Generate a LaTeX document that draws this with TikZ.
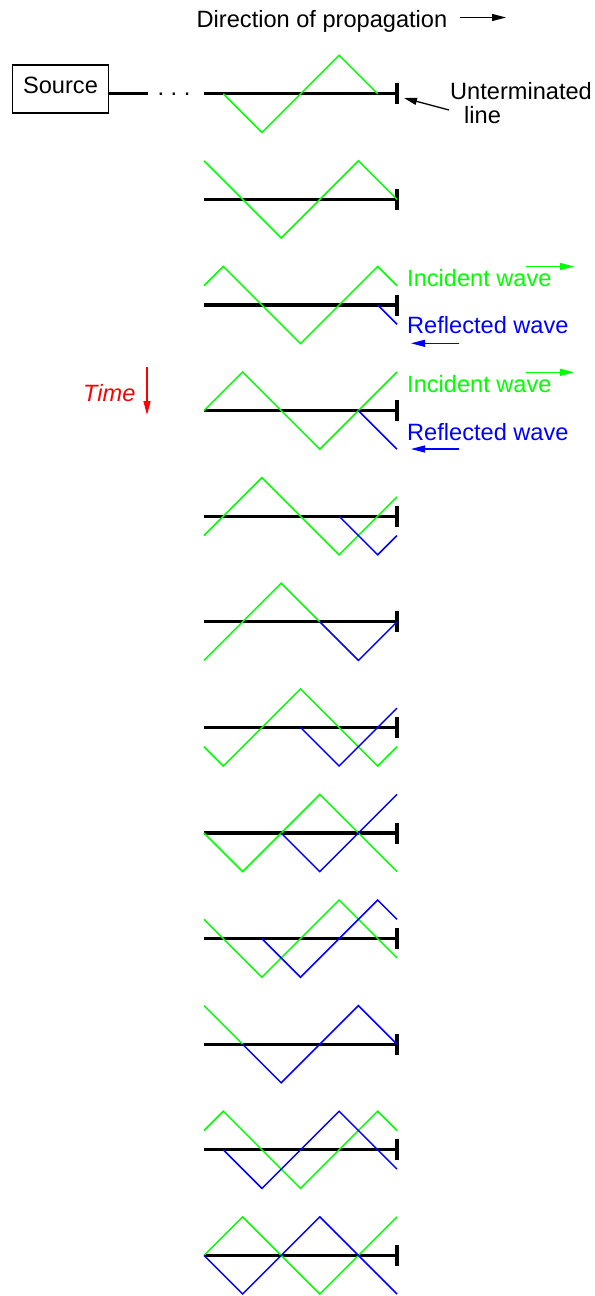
\documentclass[tikz,border=0pt]{standalone}
\usepackage{fontspec}
\setmainfont{Liberation Sans}
\usetikzlibrary{arrows.meta}
\definecolor{incg}{RGB}{0,255,0}
\definecolor{refb}{RGB}{0,0,255}
\definecolor{timer}{RGB}{255,0,0}
\begin{document}
\begin{tikzpicture}[x=1bp,y=1bp,
  font=\fontsize{23.6bp}{28bp}\selectfont,
  tline/.style={line width=3.2bp},
  incw/.style={draw=incg, line width=1.5bp},
  refw/.style={draw=refb, line width=1.5bp},
  lbl/.style={anchor=base west, inner sep=0pt},
  arr/.style={-{Triangle[length=14bp,width=7bp]}, line width=1.3bp},
  rowsc/.style={shift={(204bp,-#1bp)}, x=38.6bp, y=38.6bp}]
\useasboundingbox (0,0) rectangle (595,-1296);

% header
\node[lbl] (dir) at (196.5,-27) {Direction of propagation};
\coordinate (dirA) at (460,-17.5);
\coordinate (dirB) at (506,-17.5);
\draw[arr] (dirA) -- (dirB);

% source
\node[draw, line width=1.3bp, minimum width=96bp, minimum height=48bp, inner sep=0pt, text depth=7bp] (src) at (60.5,-89) {Source};
\coordinate (sl) at (147.7,-93.8);
\draw[tline] (src.east |- sl) -- (sl);
\node[anchor=base, inner sep=0pt] (dots) at (174,-95.5) {.\ .\ .};

% unterminated label
\node[lbl] (unt) at (450,-99.5) {Unterminated};
\node[lbl] (lin) at (464,-123) {line};
\coordinate (untA) at (449,-110);
\coordinate (untB) at (404,-98);
\draw[arr, -{Triangle[length=13bp,width=7bp]}] (untA) -- (untB);

% time
\node[lbl, text=timer, font=\fontsize{23.6bp}{28bp}\selectfont\itshape] (time) at (83,-401.5) {Time};
\coordinate (tA) at (147,-367);
\coordinate (tB) at (147,-415);
\draw[arr, draw=timer, fill=timer] (tA) -- (tB);

% incident / reflected labels
\node[lbl, text=incg] (inc1) at (407,-286.5) {Incident wave};
\node[lbl, text=refb] (ref1) at (407,-333.5) {Reflected wave};
\node[lbl, text=incg] (inc2) at (407,-392) {Incident wave};
\node[lbl, text=refb] (ref2) at (407,-440) {Reflected wave};
\coordinate (ia1) at (526,-266.5); \coordinate (ib1) at (574,-266.5);
\coordinate (ia2) at (526,-372.3); \coordinate (ib2) at (574,-372.3);
\coordinate (ra1) at (459,-343.3); \coordinate (rb1) at (411,-343.3);
\coordinate (ra2) at (459,-449); \coordinate (rb2) at (411,-449);
\draw[arr, draw=incg, fill=incg, line width=1.2bp] (ia1) -- (ib1);
\draw[arr, draw=incg, fill=incg, line width=1.2bp] (ia2) -- (ib2);
\draw[arr, draw=refb, fill=refb, line width=1.2bp] (ra1) -- (rb1);
\draw[arr, draw=refb, fill=refb, line width=1.2bp] (ra2) -- (rb2);

% rows
\foreach \yy [count=\i] in {93.8,199.4,305,410.6,516.2,621.8,727.4,833,938.6,1044.2,1149.8,1255.4}{
  \begin{scope}[rowsc=\yy]
    \draw[tline] (0,0) coordinate (la\i) -- (5,0) coordinate (lb\i);
    \draw[tline] (lb\i) ++(0,-10.5bp) -- ++(0,21bp);
  \end{scope}
}
\begin{scope}[rowsc=93.8]
  \draw[incw] (0.5,0) -- (1.5,-1) -- (3.5,1) -- (4.5,0);
\end{scope}
\begin{scope}[rowsc=199.4]
  \draw[incw] (0,1) -- (2,-1) -- (4,1) -- (5,0);
\end{scope}
\begin{scope}[rowsc=305]
  \draw[incw] (0,.5) -- (.5,1) -- (2.5,-1) -- (4.5,1) -- (5,.5);
  \draw[refw] (4.5,0) -- (5,-.5);
\end{scope}
\begin{scope}[rowsc=410.6]
  \draw[incw] (0,0) -- (1,1) -- (3,-1) -- (5,1);
  \draw[refw] (4,0) -- (5,-1);
\end{scope}
\begin{scope}[rowsc=516.2]
  \draw[incw] (0,-.5) -- (1.5,1) -- (3.5,-1) -- (5,.5);
  \draw[refw] (3.5,0) -- (4.5,-1) -- (5,-.5);
\end{scope}
\begin{scope}[rowsc=621.8]
  \draw[incw] (0,-1) -- (2,1) -- (3,0);
  \draw[refw] (3,0) -- (4,-1) -- (5,0);
\end{scope}
\begin{scope}[rowsc=727.4]
  \draw[incw] (0,-.5) -- (.5,-1) -- (2.5,1) -- (4.5,-1) -- (5,-.5);
  \draw[refw] (2.5,0) -- (3.5,-1) -- (5,.5);
\end{scope}
\begin{scope}[rowsc=833]
  \draw[incw] (0,0) -- (1,-1) -- (3,1) -- (5,-1);
  \draw[refw] (2,0) -- (3,-1) -- (5,1);
\end{scope}
\begin{scope}[rowsc=938.6]
  \draw[incw] (0,.5) -- (1.5,-1) -- (3.5,1) -- (5,-.5);
  \draw[refw] (1.5,0) -- (2.5,-1) -- (4.5,1) -- (5,.5);
\end{scope}
\begin{scope}[rowsc=1044.2]
  \draw[incw] (0,1) -- (1,0);
  \draw[refw] (1,0) -- (2,-1) -- (4,1) -- (5,0);
\end{scope}
\begin{scope}[rowsc=1149.8]
  \draw[incw] (0,.5) -- (.5,1) -- (2.5,-1) -- (4.5,1) -- (5,.5);
  \draw[refw] (.5,0) -- (1.5,-1) -- (3.5,1) -- (5,-.5);
\end{scope}
\begin{scope}[rowsc=1255.4]
  \draw[incw] (0,0) -- (1,1) -- (3,-1) -- (5,1);
  \draw[refw] (0,0) -- (1,-1) -- (3,1) -- (5,-1);
\end{scope}
\end{tikzpicture}
\end{document}
